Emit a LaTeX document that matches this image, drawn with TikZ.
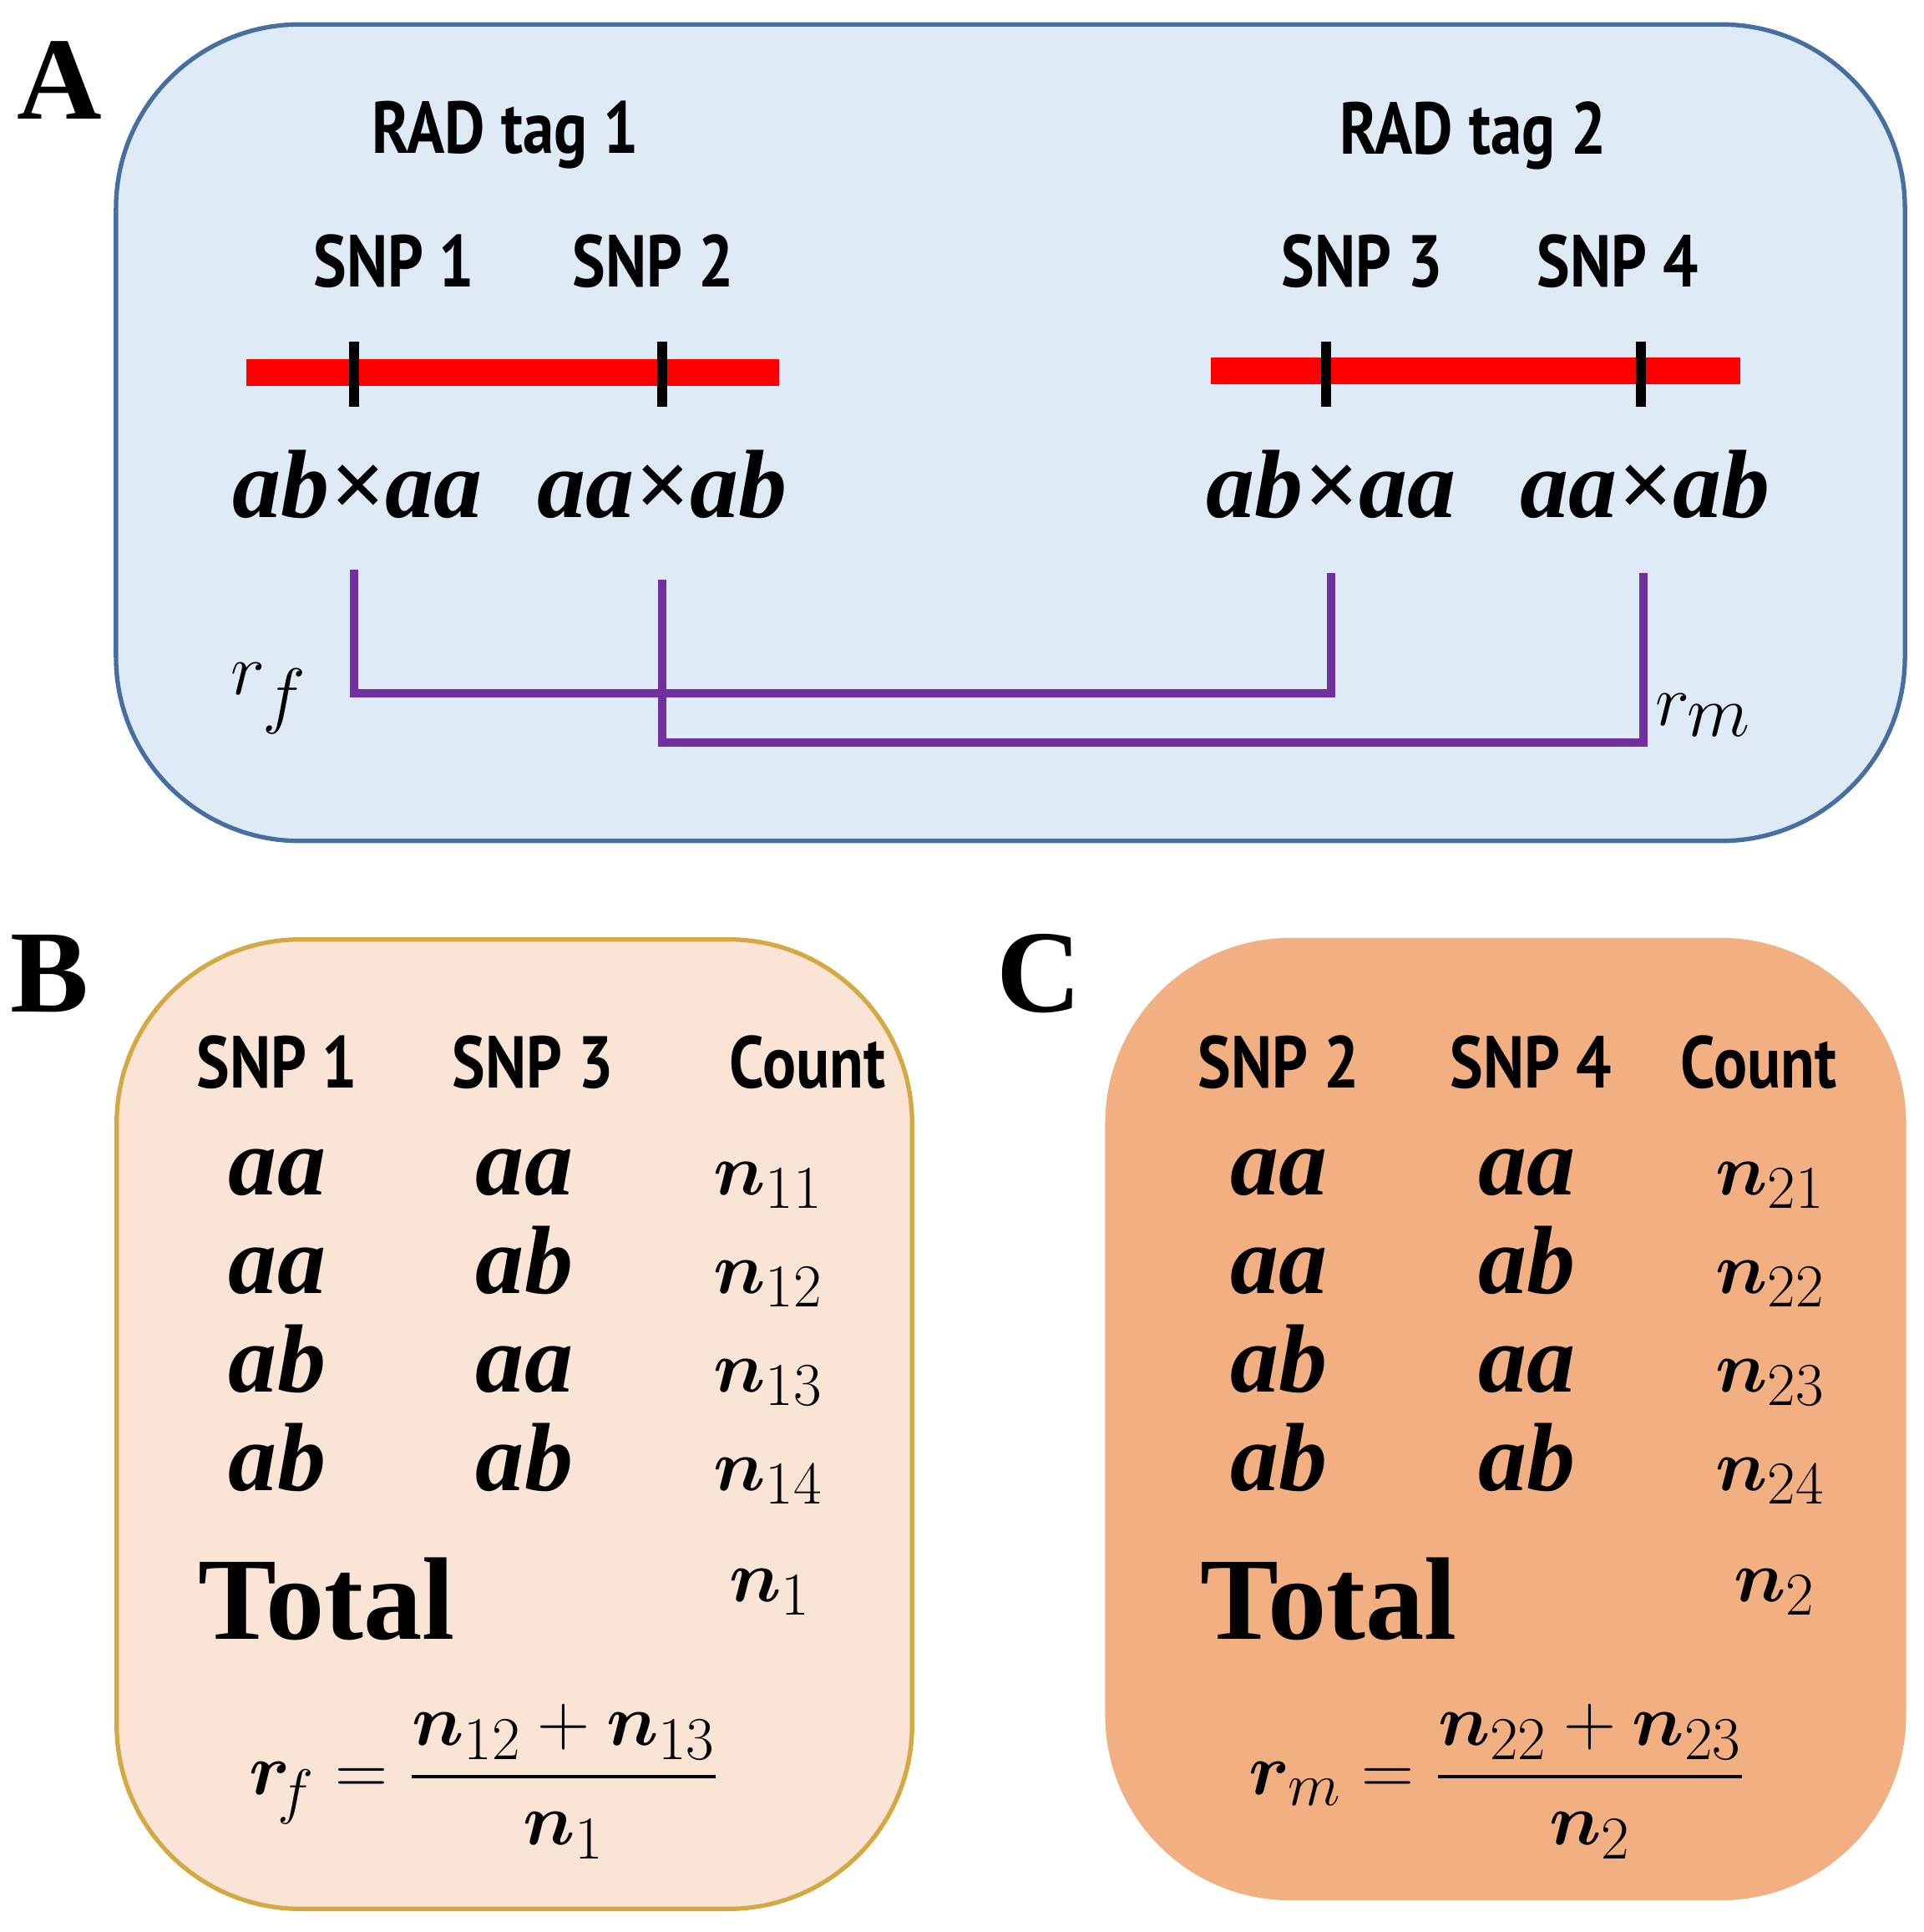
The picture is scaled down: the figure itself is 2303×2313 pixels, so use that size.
\documentclass[tikz,border=0pt]{standalone}
\usepackage{amsmath,bm}
\usepackage{fontspec}
\setmainfont{Liberation Serif}
\newfontfamily\hd{PT Sans}
\let\boldsymbol\bm
\begin{document}
\begin{tikzpicture}[x=0.01cm,y=-0.01cm,
 hdr/.style={font=\hd\bfseries\fontsize{25}{28}\selectfont,xscale=0.85},
 gt/.style={font=\bfseries\itshape\fontsize{33}{36}\selectfont,anchor=base},
 cnt/.style={font=\fontsize{30}{34}\selectfont},
 lab/.style={font=\bfseries\fontsize{40}{44}\selectfont},
 red/.style={line width=9pt,draw={rgb,255:red,255;green,0;blue,0}},
 tick/.style={line width=3.5pt,draw=black},
 pur/.style={line width=3pt,draw={rgb,255:red,112;green,48;blue,160}}]
\useasboundingbox (0,0) rectangle (2303,2313);
\fill[white] (0,0) rectangle (2303,2313);
% panel A
\node[draw={rgb,255:red,70;green,110;blue,160},line width=1.5pt,fill={rgb,255:red,222;green,234;blue,246},rounded corners=2.2cm,minimum width=21.41cm,minimum height=9.77cm] (boxA) at (1210,518) {};
\node[lab] (lA) at (71,96) {A};
\node[hdr] (t1) at (605,162) {RAD tag 1};
\node[hdr] (t2) at (1764,162) {RAD tag 2};
\node[hdr] (s1) at (472,313) {SNP 1};
\node[hdr] (s2) at (782,313) {SNP 2};
\node[hdr] (s3) at (1631,313) {SNP 3};
\node[hdr] (s4) at (1937,313) {SNP 4};
\coordinate (r1a) at (295,446); \coordinate (r1b) at (933,446);
\coordinate (r2a) at (1450,444); \coordinate (r2b) at (2084,444);
\draw[red] (r1a) -- (r1b);
\draw[red] (r2a) -- (r2b);
\foreach \x/\n in {424/k1,793/k2,1588/k3,1965/k4}{
 \coordinate (\n a) at (\x,409); \coordinate (\n b) at (\x,487);
 \draw[tick] (\n a) -- (\n b);}
\node[gt] (g1) at (428,620) {ab×aa};
\node[gt] (g2) at (793,620) {aa×ab};
\node[gt] (g3) at (1594,620) {ab×aa};
\node[gt] (g4) at (1970,620) {aa×ab};
\coordinate (p1) at (424,682); \coordinate (p1b) at (424,830);
\coordinate (p3b) at (1594,830); \coordinate (p3) at (1594,686);
\coordinate (p2) at (793,694); \coordinate (p2b) at (793,889);
\coordinate (p4b) at (1968,889); \coordinate (p4) at (1968,686);
\draw[pur] (p1) -- (p1b) -- (p3b) -- (p3);
\draw[pur] (p2) -- (p2b) -- (p4b) -- (p4);
\node[font=\fontsize{48}{52}\selectfont] (rf) at (322,836) {$r_f$};
\node[font=\fontsize{48}{52}\selectfont] (rm) at (2040,856) {$r_m$};
% panel B
\node[draw={rgb,255:red,212;green,168;blue,67},line width=1.5pt,fill={rgb,255:red,250;green,228;blue,214},rounded corners=2.2cm,minimum width=9.52cm,minimum height=11.6cm] (boxB) at (616,1705) {};
\node[draw={rgb,255:red,240;green,176;blue,130},line width=1pt,fill={rgb,255:red,242;green,176;blue,130},rounded corners=2.2cm,minimum width=9.55cm,minimum height=11.48cm] (boxC) at (1803,1699) {};
\node[lab] (lB) at (59,1166) {B};
\node[lab] (lC) at (1244,1166) {C};
\node[hdr] (bh1) at (332,1272) {SNP 1};
\node[hdr] (bh2) at (638,1272) {SNP 3};
\node[hdr] (bh3) at (967,1272) {Count};
\node[hdr] (ch1) at (1531,1272) {SNP 2};
\node[hdr] (ch2) at (1833,1272) {SNP 4};
\node[hdr] (ch3) at (2106,1272) {Count};
\foreach \y/\a/\b/\i in {1430/aa/aa/1,1548/aa/ab/2,1666/ab/aa/3,1784/ab/ab/4}{
 \node[gt] (ba\i) at (332,\y) {\a};
 \node[gt] (bb\i) at (628,\y) {\b};
 \node[cnt,anchor=base] (bc\i) at (920,\y) {$\boldsymbol{n}_{1\i}$};
 \node[gt] (ca\i) at (1531,\y) {\a};
 \node[gt] (cb\i) at (1828,\y) {\b};
 \node[cnt,anchor=base] (cc\i) at (2120,\y) {$\boldsymbol{n}_{2\i}$};}
\node[font=\bfseries\fontsize{40}{44}\selectfont] (bt) at (391,1914) {Total};
\node[cnt] (bn) at (922,1906) {$\boldsymbol{n}_1$};
\node[font=\bfseries\fontsize{40}{44}\selectfont] (ct) at (1591,1914) {Total};
\node[cnt] (cn) at (2125,1906) {$\boldsymbol{n}_2$};
\node[cnt] (bf) at (580,2133) {$\boldsymbol{r}_{\!f}=\dfrac{\boldsymbol{n}_{12}+\boldsymbol{n}_{13}}{\boldsymbol{n}_1}$};
\node[cnt] (cf) at (1793,2133) {$\boldsymbol{r}_{m}=\dfrac{\boldsymbol{n}_{22}+\boldsymbol{n}_{23}}{\boldsymbol{n}_2}$};
\end{tikzpicture}
\end{document}
